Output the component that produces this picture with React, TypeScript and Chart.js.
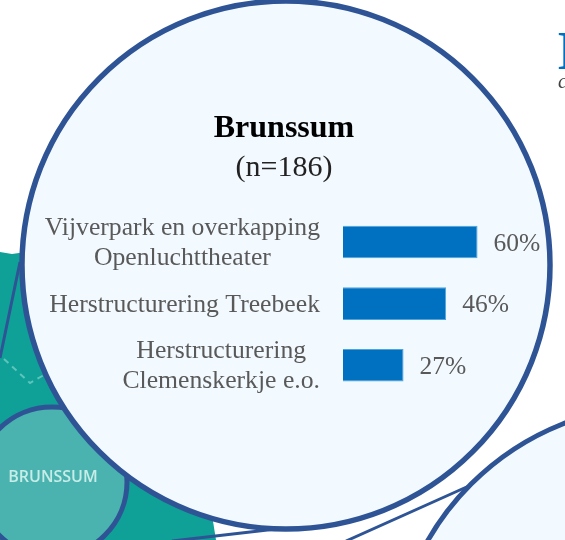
import React, { useEffect, useRef } from "react";
import { Chart, registerables } from "chart.js";

Chart.register(...registerables);

const categories: string[][] = [
  ["Vijverpark en overkapping", "Openluchttheater"],
  ["Herstructurering Treebeek"],
  ["Herstructurering", "Clemenskerkje e.o."],
];
const values: number[] = [60, 46, 27];
const titleText = "Brunssum";
const subtitleText = "(n=186)";
const mapLabel = "BRUNSSUM";

const SERIF = "'Liberation Serif', serif";
const NAVY = "#2E5496";
const PANEL = "#F3FAFF";

const backdrop = {
  id: "backdrop",
  beforeDraw(chart: any) {
    const c = chart.ctx;
    c.save();
    c.fillStyle = "#fff";
    c.fillRect(0, 0, 565, 540);
    // teal map
    c.fillStyle = "#0FA197";
    c.beginPath();
    c.moveTo(0, 252);
    c.lineTo(12, 254);
    c.lineTo(40, 250);
    c.lineTo(150, 400);
    c.lineTo(212, 515);
    c.lineTo(216, 540);
    c.lineTo(0, 540);
    c.closePath();
    c.fill();
    c.strokeStyle = "#5FC4BB";
    c.lineWidth = 2;
    c.setLineDash([6, 5]);
    c.beginPath();
    c.moveTo(4, 359);
    c.lineTo(30, 383);
    c.lineTo(44, 375);
    c.stroke();
    c.setLineDash([]);
    // connector lines
    c.strokeStyle = NAVY;
    c.lineWidth = 3;
    c.beginPath();
    c.moveTo(20, 262);
    c.lineTo(0, 358);
    c.moveTo(285, 528);
    c.lineTo(172, 541);
    c.moveTo(471, 485);
    c.lineTo(346, 541);
    c.stroke();
    // small circle
    c.lineWidth = 5;
    c.fillStyle = "#4AB3AF";
    c.beginPath();
    c.arc(52, 482, 75, 0, Math.PI * 2);
    c.fill();
    c.stroke();
    c.fillStyle = "#C8EDE9";
    c.font = "600 16px 'Open Sans', sans-serif";
    c.textAlign = "center";
    c.textBaseline = "middle";
    c.fillText(mapLabel, 53, 477);
    // lower-right circle
    c.lineWidth = 5;
    c.fillStyle = PANEL;
    c.beginPath();
    c.arc(662, 675, 270, 0, Math.PI * 2);
    c.fill();
    c.stroke();
    // main circle
    c.lineWidth = 5.5;
    c.beginPath();
    c.arc(286, 265, 264, 0, Math.PI * 2);
    c.fill();
    c.stroke();
    // clipped heading at the top right
    c.textAlign = "left";
    c.textBaseline = "alphabetic";
    c.fillStyle = "#0070C0";
    c.font = `bold 54px ${SERIF}`;
    c.fillText("I", 557, 69);
    c.fillStyle = "#404040";
    c.font = `italic 20px ${SERIF}`;
    c.fillText("c", 558, 88);
    c.restore();

    // centre each multi-line tick label on its own width, right edge on the axis padding
    const s = chart.scales.y;
    const rightEdge = s.right - s.options.ticks.padding;
    s.getLabelItems().forEach((item: any) => {
      if (item.__placed) return;
      item.__placed = true;
      c.save();
      c.font = item.font.string;
      const lines: string[] = Array.isArray(item.label) ? item.label : [item.label];
      const w = Math.max(...lines.map((t: string) => c.measureText(t).width));
      c.restore();
      item.options.textAlign = "center";
      item.options.translation[0] = rightEdge - w / 2;
      item.options.translation[1] += 1.5;
    });
  },
  afterDatasetsDraw(chart: any) {
    const c = chart.ctx;
    const meta = chart.getDatasetMeta(0);
    c.save();
    c.fillStyle = "#595959";
    c.font = `25.5px ${SERIF}`;
    c.textAlign = "left";
    c.textBaseline = "middle";
    meta.data.forEach((bar: any, i: number) => {
      c.fillText(`${values[i]}%`, bar.x + 16, bar.y + 2);
    });
    c.restore();
  },
};

export default function App() {
  const ref = useRef<HTMLCanvasElement>(null);
  useEffect(() => {
    const chart = new Chart(ref.current as HTMLCanvasElement, {
      type: "bar",
      data: {
        labels: categories as any,
        datasets: [
          {
            data: values,
            backgroundColor: "#0070C0",
            borderColor: "#4FA3DC",
            borderWidth: 1,
            barPercentage: 0.53,
            categoryPercentage: 1,
          },
        ],
      },
      options: {
        indexAxis: "y",
        animation: false,
        responsive: false,
        layout: { padding: { top: 110, bottom: 144, right: 0, left: 3 } },
        plugins: {
          legend: { display: false },
          tooltip: { enabled: false },
          title: {
            display: true,
            text: titleText,
            color: "#000",
            font: { family: SERIF, size: 32, weight: "bold", lineHeight: 1.2 },
            padding: { top: 0, bottom: 1.6 },
          },
          subtitle: {
            display: true,
            text: subtitleText,
            color: "#222",
            font: { family: SERIF, size: 30, weight: "normal", lineHeight: 1.2 },
            padding: { top: 0, bottom: 25.25 },
          },
        },
        scales: {
          x: { display: false, min: 0, max: 99 },
          y: {
            grid: { display: false, drawTicks: false },
            border: { display: false },
            ticks: {
              autoSkip: false,
              color: "#595959",
              padding: 23,
              font: { family: SERIF, size: 25.7, lineHeight: 1.17 },
            },
            afterFit(scale: any) {
              scale.width = 340;
            },
          },
        },
      },
      plugins: [backdrop],
    } as any);
    return () => chart.destroy();
  }, []);
  return (
    <div style={{ position: "absolute", left: 0, top: 0, width: 565, height: 540, overflow: "hidden" }}>
      <canvas ref={ref} width={565} height={540} style={{ display: "block" }} />
    </div>
  );
}
